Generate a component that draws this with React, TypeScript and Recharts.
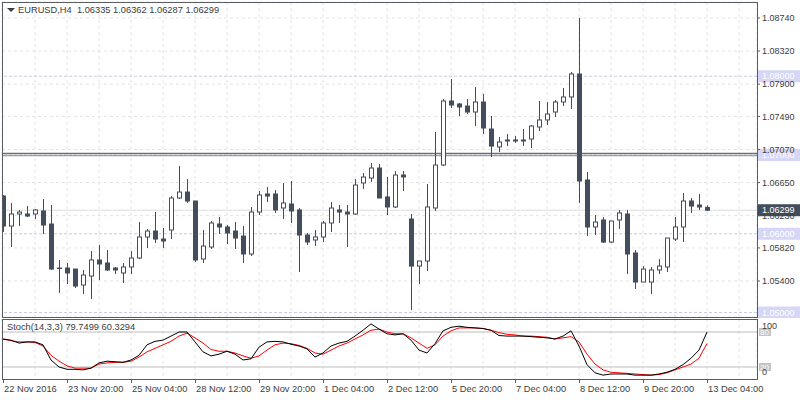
import { ComposedChart, Bar, Line, XAxis, YAxis, ReferenceLine, CartesianGrid } from 'recharts';

// EURUSD H4 candles, 22 Nov 2016 - 13 Dec 2016
const opens = [
  1.06479, 1.06098, 1.06251, 1.06251, 1.06251, 1.06289, 1.06124, 1.05565, 1.05565, 1.05552,
  1.05349, 1.05463, 1.05667, 1.05629, 1.05565, 1.05502, 1.05578, 1.05692, 1.05959, 1.06035,
  1.05933, 1.06048, 1.06454, 1.06530, 1.06416, 1.05679, 1.05832, 1.06124, 1.06086, 1.06035,
  1.05971, 1.05743, 1.06276, 1.06505, 1.06505, 1.06327, 1.06378, 1.06302, 1.05984, 1.05921,
  1.05959, 1.06137, 1.06302, 1.06276, 1.06251, 1.06645, 1.06708, 1.06835, 1.06467, 1.06340,
  1.06746, 1.06187, 1.05590, 1.05654, 1.06327, 1.06873, 1.07686, 1.07648, 1.07622, 1.07546,
  1.07673, 1.07330, 1.07102, 1.07191, 1.07191, 1.07191, 1.07203, 1.07356, 1.07445, 1.07546,
  1.07673, 1.07737, 1.08029, 1.06683, 1.06086, 1.06175, 1.05895, 1.06175, 1.06251, 1.05756,
  1.05387, 1.05387, 1.05540, 1.05578, 1.05933, 1.06086, 1.06416, 1.06365, 1.06335,
];
const highs = [
  1.06492, 1.06391, 1.06302, 1.06352, 1.06314, 1.06441, 1.06365, 1.05667, 1.05629, 1.05552,
  1.05540, 1.05781, 1.05857, 1.05794, 1.05578, 1.05629, 1.05781, 1.06149, 1.06060, 1.06276,
  1.06073, 1.06479, 1.06860, 1.06695, 1.06416, 1.06048, 1.06162, 1.06213, 1.06111, 1.06149,
  1.06098, 1.06340, 1.06543, 1.06594, 1.06556, 1.06645, 1.06670, 1.06327, 1.06010, 1.06048,
  1.06162, 1.06403, 1.06365, 1.06365, 1.06695, 1.06772, 1.06899, 1.06886, 1.06721, 1.06797,
  1.06797, 1.06251, 1.05654, 1.06632, 1.07292, 1.07711, 1.07965, 1.07661, 1.07711, 1.07864,
  1.07775, 1.07495, 1.07229, 1.07267, 1.07241, 1.07330, 1.07381, 1.07686, 1.07673, 1.07699,
  1.07851, 1.08054, 1.08740, 1.06784, 1.06238, 1.06213, 1.06162, 1.06302, 1.06302, 1.05794,
  1.05590, 1.05578, 1.05679, 1.05946, 1.06213, 1.06518, 1.06454, 1.06505, 1.06362,
];
const lows = [
  1.06022, 1.05832, 1.06098, 1.06213, 1.06187, 1.05997, 1.05540, 1.05248, 1.05362, 1.05311,
  1.05235, 1.05171, 1.05413, 1.05527, 1.05489, 1.05375, 1.05489, 1.05679, 1.05819, 1.05883,
  1.05819, 1.05933, 1.06441, 1.06391, 1.05641, 1.05629, 1.05806, 1.05997, 1.05870, 1.05806,
  1.05629, 1.05717, 1.06238, 1.06403, 1.06264, 1.06187, 1.06137, 1.05514, 1.05857, 1.05844,
  1.05895, 1.06022, 1.06137, 1.05832, 1.06238, 1.06568, 1.06657, 1.06454, 1.06238, 1.06327,
  1.06543, 1.05032, 1.05362, 1.05527, 1.06289, 1.06860, 1.07597, 1.07495, 1.07521, 1.07368,
  1.07267, 1.06975, 1.07038, 1.07114, 1.07153, 1.07114, 1.07089, 1.07305, 1.07381, 1.07483,
  1.07622, 1.07584, 1.06391, 1.05971, 1.05984, 1.05883, 1.05883, 1.06060, 1.05489, 1.05298,
  1.05387, 1.05235, 1.05489, 1.05514, 1.05908, 1.05895, 1.06264, 1.06302, 1.06287,
];
const closes = [
  1.06098, 1.06251, 1.06276, 1.06225, 1.06302, 1.06111, 1.05552, 1.05565, 1.05502, 1.05336,
  1.05476, 1.05667, 1.05616, 1.05540, 1.05540, 1.05578, 1.05692, 1.05959, 1.06035, 1.05933,
  1.05908, 1.06454, 1.06530, 1.06416, 1.05667, 1.05844, 1.06137, 1.06086, 1.06010, 1.05946,
  1.05743, 1.06276, 1.06492, 1.06479, 1.06302, 1.06391, 1.06289, 1.05984, 1.05895, 1.05959,
  1.06137, 1.06327, 1.06276, 1.06251, 1.06619, 1.06721, 1.06835, 1.06454, 1.06340, 1.06746,
  1.06721, 1.05590, 1.05654, 1.06340, 1.06873, 1.07686, 1.07635, 1.07610, 1.07546, 1.07673,
  1.07343, 1.07114, 1.07165, 1.07178, 1.07178, 1.07178, 1.07368, 1.07445, 1.07521, 1.07673,
  1.07737, 1.08029, 1.06670, 1.06086, 1.06149, 1.05895, 1.06162, 1.06264, 1.05743, 1.05387,
  1.05552, 1.05540, 1.05590, 1.05946, 1.06086, 1.06416, 1.06352, 1.06340, 1.06299,
];

// Stochastic(14,3,3): %K main line and %D signal line
const stochK = [
  68, 66, 61, 63, 63, 58, 32, 20, 16, 16,
  15, 18, 27, 30, 29, 28, 32, 40, 58, 64,
  66, 73, 80, 80, 63, 46, 39, 42, 47, 42,
  32, 34, 54, 63, 64, 63, 59, 56, 51, 37,
  44, 56, 61, 64, 73, 83, 94, 85, 77, 75,
  77, 66, 49, 44, 60, 82, 88, 90, 88, 87,
  86, 83, 74, 73, 73, 73, 72, 71, 70, 68,
  73, 82, 56, 24, 10, 6, 8, 8, 8, 6,
  6, 6, 8, 11, 16, 24, 35, 49, 79.75,
];
const stochD = [
  68, 65, 63, 63, 62, 56, 40, 30, 22, 18,
  18, 18, 25, 27, 28, 28, 30, 37, 46, 52,
  58, 64, 73, 78, 70, 61, 50, 47, 47, 44,
  39, 35, 39, 49, 58, 61, 60, 57, 52, 44,
  42, 49, 56, 61, 68, 75, 83, 85, 80, 77,
  77, 70, 61, 52, 58, 73, 82, 87, 87, 87,
  86, 83, 79, 76, 75, 73, 73, 72, 71, 68,
  70, 72, 63, 42, 25, 15, 11, 10, 9, 8,
  7, 6, 7, 10, 15, 20, 25, 35, 60.33,
];

const dateTicks = [0, 8, 16, 24, 32, 40, 48, 56, 64, 72, 80, 88];
const dateLabels = [
  '22 Nov 2016', '23 Nov 20:00', '25 Nov 04:00', '28 Nov 12:00', '29 Nov 20:00', '1 Dec 04:00',
  '2 Dec 12:00', '5 Dec 20:00', '7 Dec 04:00', '8 Dec 12:00', '9 Dec 20:00', '13 Dec 04:00',
];
const gridTicks = [4, 8, 12, 16, 20, 24, 28, 32, 36, 40, 44, 48, 52, 56, 60, 64, 68, 72, 76, 80, 84, 88, 92];
const priceTicks = [1.0874, 1.0832, 1.079, 1.0749, 1.0707, 1.0665, 1.0623, 1.0582, 1.054];
const roundLevels = [1.08, 1.07, 1.06, 1.05];
const lastPrice = 1.06299;
const stochLevels = [80, 20];

const FONT = '"Liberation Sans", Arial, sans-serif';
const INK = '#434e5c';
const TEXT = '#3c3c3c';
const FRAME = '#585d64';
const GRID = '#e3e3e3';
const LAVENDER = '#c9c9f0';

const candles = opens.map((o, i) => ({
  i,
  range: [lows[i], highs[i]],
  o,
  h: highs[i],
  l: lows[i],
  c: closes[i],
}));
const stoch = stochK.map((k, i) => ({ i, k, d: stochD[i] }));

function Candle(props: any) {
  const { x, y, width, height, payload } = props;
  const { o, h, l, c } = payload;
  const top = Math.min(y, y + height);
  const hgt = Math.abs(height);
  const cx = Math.round(x + width / 2);
  const span = h - l || 1e-9;
  const py = (v: number) => top + ((h - v) / span) * hgt;
  const up = c > o;
  const bTop = py(Math.max(o, c));
  const bBot = py(Math.min(o, c));
  return (
    <g>
      <line x1={cx + 0.5} x2={cx + 0.5} y1={top} y2={top + hgt} stroke={INK} strokeWidth={1} />
      <rect
        x={cx - 1.5}
        y={bTop}
        width={4}
        height={Math.max(bBot - bTop, 0.5)}
        fill={up ? '#ffffff' : INK}
        stroke={INK}
        strokeWidth={1}
      />
    </g>
  );
}

function LevelTag({ viewBox, text, bg }: any) {
  if (!viewBox) return null;
  const x = viewBox.x + viewBox.width + 1;
  const y = viewBox.y;
  return (
    <g>
      <rect x={x} y={y - 6} width={43} height={12} fill={bg} />
      <text x={x + 4} y={y} dy="0.35em" fill="#ffffff" fontSize={9} fontFamily={FONT}>
        {text}
      </text>
    </g>
  );
}

function StochTag({ viewBox, text }: any) {
  if (!viewBox) return null;
  const x = viewBox.x + viewBox.width + 2;
  const y = viewBox.y;
  return (
    <g>
      <rect x={x} y={y - 4} width={12} height={8} fill="#c4c4c4" />
      <text x={x + 1} y={y} dy="0.35em" fill="#ffffff" fontSize={8} fontFamily={FONT}>
        {text}
      </text>
    </g>
  );
}

function DateTick(props: any) {
  const { x, y, payload } = props;
  const label = dateLabels[dateTicks.indexOf(payload.value)];
  return (
    <g>
      <line x1={x + 0.5} x2={x + 0.5} y1={y} y2={y + 4} stroke={FRAME} />
      <text x={x + 1} y={y + 13} fill={TEXT} fontSize={9.3} fontFamily={FONT}>
        {label}
      </text>
    </g>
  );
}

function StochTick(props: any) {
  const { x, y, payload } = props;
  const dy = payload.value === 100 ? 6 : -7;
  return (
    <text x={x} y={y + dy} dy="0.35em" fill={TEXT} fontSize={9} fontFamily={FONT}>
      {payload.value}
    </text>
  );
}

const xDomain = [-0.125, 94.25];

export default function App() {
  return (
    <div style={{ position: 'absolute', left: 0, top: 0, width: 800, height: 400, background: '#fff', overflow: 'hidden', fontFamily: FONT }}>
      <div style={{ position: 'absolute', left: 0, top: 0 }}>
        <ComposedChart width={800} height={318} data={candles} margin={{ top: 2, right: 0, bottom: 1, left: 2 }}>
          <CartesianGrid stroke={GRID} strokeDasharray="3 3" />
          <XAxis dataKey="i" type="number" domain={xDomain} ticks={gridTicks} interval={0} hide allowDataOverflow />
          <YAxis
            orientation="right"
            type="number"
            domain={[1.04943, 1.08943]}
            allowDataOverflow
            ticks={priceTicks}
            interval={0}
            width={43}
            axisLine={false}
            tickLine={{ stroke: FRAME }}
            tickSize={3}
            tickMargin={2}
            tickFormatter={(v: number) => v.toFixed(5)}
            tick={{ fill: TEXT, fontSize: 9, fontFamily: FONT }}
          />
          <ReferenceLine y={lastPrice} stroke="#dcdcdc" zIndex={-10} />
          {roundLevels.map((p) => (
            <ReferenceLine
              key={'r' + p}
              y={p}
              stroke={LAVENDER}
              strokeDasharray="3 2"
              ifOverflow="visible"
              zIndex={-10}
              label={(lp: any) => <LevelTag {...lp} text={p.toFixed(5)} bg="#d6d6f6" />}
            />
          ))}
          <ReferenceLine y={1.07018} stroke="#707070" strokeWidth={1.5} zIndex={-10} />
          <ReferenceLine y={1.06991} stroke="#8a8a8a" zIndex={-10} />
          <Bar dataKey="range" barSize={5} isAnimationActive={false} shape={(p: any) => <Candle {...p} />} />
          <ReferenceLine
            y={lastPrice}
            stroke="none"
            ifOverflow="visible"
            label={(lp: any) => <LevelTag {...lp} text={lastPrice.toFixed(5)} bg={INK} />}
          />
        </ComposedChart>
      </div>

      <div style={{ position: 'absolute', left: 0, top: 319 }}>
        <ComposedChart width={800} height={81} data={stoch} margin={{ top: 0, right: 0, bottom: 0, left: 2 }}>
          <CartesianGrid xAxisId="grid" stroke={GRID} strokeDasharray="3 3" horizontal={false} />
          <XAxis xAxisId="grid" dataKey="i" type="number" domain={xDomain} ticks={gridTicks} interval={0} hide allowDataOverflow />
          <XAxis
            dataKey="i"
            type="number"
            domain={xDomain}
            allowDataOverflow
            ticks={dateTicks}
            interval={0}
            height={21}
            axisLine={false}
            tickLine={false}
            tickSize={0}
            tickMargin={0}
            tick={(p: any) => <DateTick {...p} />}
          />
          <YAxis
            orientation="right"
            type="number"
            domain={[-0.6, 102.3]}
            allowDataOverflow
            ticks={[100, 0]}
            interval={0}
            width={43}
            axisLine={false}
            tickLine={false}
            tickSize={3}
            tickMargin={2}
            tick={(p: any) => <StochTick {...p} />}
          />
          {stochLevels.map((lv) => (
            <ReferenceLine
              key={'lv' + lv}
              y={lv}
              stroke="#bdbdbd"
              ifOverflow="visible"
              label={(lp: any) => <StochTag {...lp} text={String(lv)} />}
            />
          ))}
          <Line dataKey="d" type="linear" stroke="#ff0000" strokeWidth={1} dot={false} isAnimationActive={false} />
          <Line dataKey="k" type="linear" stroke="#000000" strokeWidth={1} dot={false} isAnimationActive={false} />
        </ComposedChart>
      </div>

      {/* panel frames */}
      <div style={{ position: 'absolute', left: 2, top: 2, width: 756, height: 316, boxSizing: 'border-box', border: `1px solid ${FRAME}`, pointerEvents: 'none' }} />
      <div style={{ position: 'absolute', left: 2, top: 319, width: 756, height: 61, boxSizing: 'border-box', border: `1px solid ${FRAME}`, pointerEvents: 'none' }} />

      <div style={{ position: 'absolute', left: 7, top: 8, width: 0, height: 0, borderLeft: '4px solid transparent', borderRight: '4px solid transparent', borderTop: `4px solid ${TEXT}` }} />
      <div style={{ position: 'absolute', left: 18, top: 4, fontSize: 9.3, lineHeight: '12px', color: TEXT, whiteSpace: 'pre' }}>
        {'EURUSD,H4  1.06335 1.06362 1.06287 1.06299'}
      </div>
      <div style={{ position: 'absolute', left: 7, top: 321, fontSize: 9.3, lineHeight: '12px', color: TEXT, whiteSpace: 'pre' }}>
        {'Stoch(14,3,3) 79.7499 60.3294'}
      </div>
    </div>
  );
}
